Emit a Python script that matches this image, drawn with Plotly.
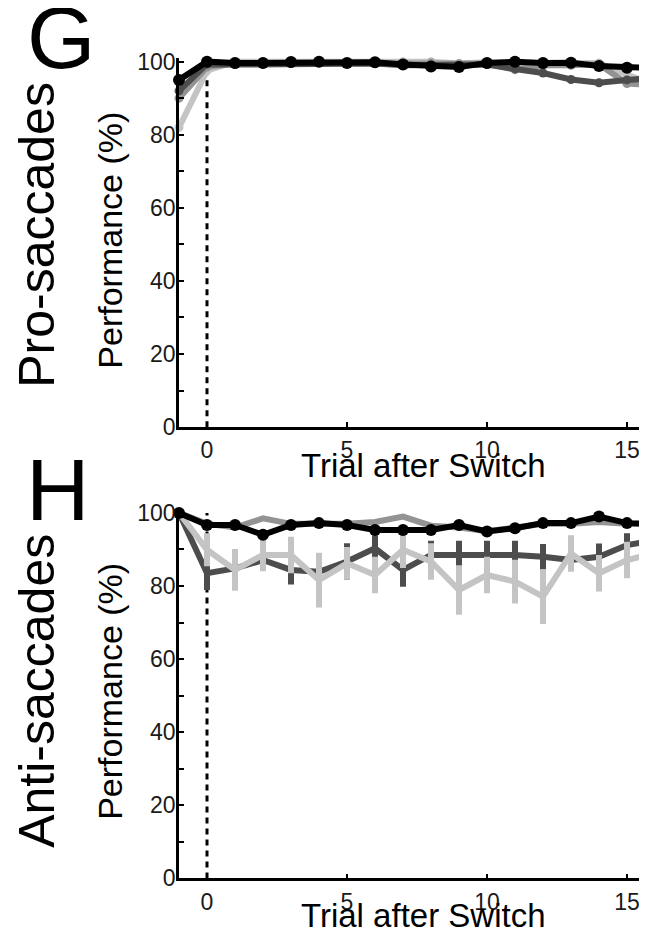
import plotly.graph_objects as go

W, H = 647, 938

trials = list(range(-1, 17))

# Pro-saccades (panel G)
pro_black = [95, 100, 99.6, 99.6, 99.9, 100, 99.6, 99.8, 99.2, 98.7, 98.5, 99.6, 100, 99.6, 99.7, 98.8, 98.3, 98.2]
pro_dark = [92, 99.3, 99.2, 99.3, 99.5, 99.7, 99.5, 99.5, 99.0, 99.0, 98.8, 99.2, 98.0, 96.9, 95.1, 94.2, 95.0, 95.5]
pro_mid = [90, 98.5, 99.5, 99.6, 99.6, 99.8, 99.6, 99.6, 99.5, 99.6, 99.4, 99.5, 97.8, 99.0, 99.0, 99.3, 94.0, 93.5]
pro_light = [82, 97.5, 100, 100, 100, 100, 99.8, 99.8, 100, 100, 99.5, 99.8, 99.5, 99.6, 99.5, 99.6, 96.5, 93.5]

# Anti-saccades (panel H)
ant_black = [100, 96.7, 96.7, 94.0, 96.7, 97.2, 96.7, 95.3, 95.3, 95.3, 96.7, 94.9, 95.8, 97.2, 97.2, 99.0, 97.2, 97.0]
ant_mid = [100, 97.0, 96.0, 98.5, 97.0, 97.0, 97.0, 97.5, 99.0, 96.5, 96.0, 95.0, 96.0, 97.0, 97.0, 97.5, 97.0, 97.0]
ant_dark = [100, 83.5, 84.8, 87.1, 84.4, 83.9, 86.7, 90.3, 84.4, 88.5, 88.5, 88.5, 88.5, 88.0, 87.1, 88.0, 91.2, 92.5]
ant_dark_err = [0, 4.6, 3.0, 3.0, 4.0, 3.5, 5.0, 3.6, 4.6, 3.9, 3.9, 3.9, 3.9, 3.5, 3.0, 3.6, 3.2, 3.0]
ant_light = [100, 89.9, 84.4, 88.5, 88.5, 81.6, 86.2, 83.0, 89.9, 86.7, 78.9, 83.0, 81.2, 77.1, 88.9, 83.5, 87.1, 89.0]
ant_light_err = [0, 4.5, 5.7, 4.5, 5.0, 7.5, 4.5, 5.0, 5.0, 5.0, 6.8, 5.0, 6.0, 7.5, 5.0, 5.0, 5.0, 5.0]

y_ticks = list(range(0, 101, 10))
y_ticktext = [str(v) if v % 20 == 0 else "" for v in y_ticks]
x_ticks = [0, 5, 10, 15]

BLACK, DARK, MID, LIGHT = "#000000", "#4d4d4d", "#939393", "#c4c4c4"
FONT = "Liberation Sans, Arial, Helvetica, sans-serif"

fig = go.Figure()

def add_series(x, y, color, xa, ya, marker=True, msize=11, err=None):
    kw = {}
    if err is not None:
        kw["error_y"] = dict(type="data", array=err, visible=True, color=color,
                             thickness=6, width=0)
    fig.add_trace(go.Scatter(
        x=x, y=y, mode="lines+markers" if marker else "lines",
        line=dict(color=color, width=6),
        marker=dict(color=color, size=msize, symbol="circle"),
        xaxis=xa, yaxis=ya, showlegend=False, cliponaxis=False, **kw))

# Panel G
add_series(trials, pro_light, LIGHT, "x", "y", msize=9)
add_series(trials, pro_mid, MID, "x", "y", msize=9)
add_series(trials, pro_dark, DARK, "x", "y", msize=9)
add_series(trials, pro_black, BLACK, "x", "y", msize=12)

# Panel H
add_series(trials, ant_dark, DARK, "x2", "y2", marker=False, err=ant_dark_err)
add_series(trials, ant_light, LIGHT, "x2", "y2", marker=False, err=ant_light_err)
add_series(trials, ant_mid, MID, "x2", "y2", marker=False)
add_series(trials, ant_black, BLACK, "x2", "y2", msize=12)

def px2x(p):
    return p / W

def px2y(p):
    return 1 - p / H

# layout geometry in page pixels
x0px, x_ppu = 199.0, 28.0
left = x0px - x_ppu          # position of x = -1
xr = [-1, -1 + (W - left) / x_ppu]
yr = [0, 101]
G0, G100 = 420.0, 45.7
H0, H100 = 882.1, 508.0
ppu = (G0 - G100) / 100.0

def ydom(p0):
    top = p0 - ppu * yr[1]
    return [px2y(p0), px2y(top)]

axis_common = dict(showline=True, linecolor="black", linewidth=2.5, ticks="inside",
                   tickcolor="black", tickwidth=2, showgrid=False, zeroline=False,
                   ticklabeloverflow="allow",
                   tickfont=dict(family=FONT, size=23, color="#1a1a1a"))

fig.update_layout(
    width=W, height=H, margin=dict(l=0, r=0, t=0, b=0),
    paper_bgcolor="white", plot_bgcolor="white",
    xaxis=dict(domain=[px2x(left), 1], range=xr, anchor="y", tickvals=x_ticks,
               ticklen=5, ticklabelstandoff=1, **axis_common),
    yaxis=dict(domain=ydom(G0), range=yr, anchor="x", tickvals=y_ticks,
               ticktext=y_ticktext, ticklen=5, ticklabelstandoff=-4, **axis_common),
    xaxis2=dict(domain=[px2x(left), 1], range=xr, anchor="y2", tickvals=x_ticks,
                ticklen=5, ticklabelstandoff=1, **axis_common),
    yaxis2=dict(domain=ydom(H0), range=yr, anchor="x2", tickvals=y_ticks,
                ticktext=y_ticktext, ticklen=5, ticklabelstandoff=-4, **axis_common),
)

for xa, ya in (("x", "y"), ("x2", "y2")):
    fig.add_shape(type="line", xref=xa, yref=ya, x0=0, x1=0, y0=0, y1=100,
                  line=dict(color="black", width=3, dash="6px,5px"), layer="below")

def text(s, px, py, size, angle=0):
    fig.add_annotation(text=s, x=px2x(px), y=px2y(py), xref="paper", yref="paper",
                       showarrow=False, textangle=angle, xanchor="center", yanchor="middle",
                       font=dict(family=FONT, size=size, color="black"))

text("G", 53, 21, 88)
text("H", 50, 484, 88)
text("Pro-saccades", 29, 223, 50, -90)
text("Anti-saccades", 29, 690, 50, -90)
text("Performance (%)", 102, 228, 34, -90)
text("Performance (%)", 102, 690, 34, -90)
text("Trial after Switch", 415, 459, 33)
text("Trial after Switch", 415, 920, 33)

fig.write_html("out.html")
